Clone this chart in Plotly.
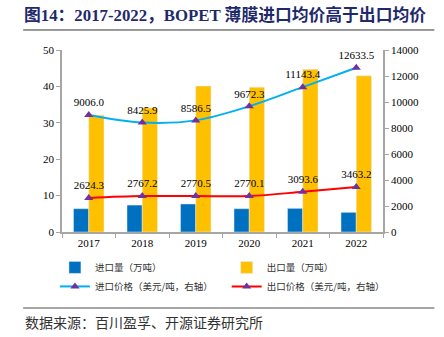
import plotly.graph_objects as go

years = ["2017", "2018", "2019", "2020", "2021", "2022"]
import_vol = [6.4, 7.4, 7.7, 6.4, 6.5, 5.4]
export_vol = [32.1, 34.1, 40.1, 39.8, 44.7, 42.9]
import_price = [9006.0, 8425.9, 8586.5, 9672.3, 11143.4, 12633.5]
export_price = [2624.3, 2767.2, 2770.5, 2770.1, 3093.6, 3463.2]

serif = "Liberation Serif, Times New Roman, serif"
cjk = "Noto Sans CJK SC"

fig = go.Figure()
fig.add_trace(go.Bar(x=years, y=import_vol, name="进口量（万吨）", marker_color="#0070C0", legend="legend"))
fig.add_trace(go.Bar(x=years, y=export_vol, name="出口量（万吨）", marker_color="#FFC000", legend="legend2"))
fig.add_trace(go.Scatter(x=years, y=import_price, name="进口价格（美元/吨，右轴）", yaxis="y2", legend="legend",
                         mode="lines+markers+text", line=dict(color="#00B0F0", width=2, shape="spline"),
                         marker=dict(symbol="triangle-up", color="#7030A0", size=8),
                         text=[f"{v:.1f}" for v in import_price], textposition="top center",
                         textfont=dict(family=serif, size=11, color="#000000")))
fig.add_trace(go.Scatter(x=years, y=export_price, name="出口价格（美元/吨，右轴）", yaxis="y2", legend="legend2",
                         mode="lines+markers+text", line=dict(color="#FF0000", width=2, shape="spline"),
                         marker=dict(symbol="triangle-up", color="#7030A0", size=8),
                         text=[f"{v:.1f}" for v in export_price], textposition="top center",
                         textfont=dict(family=serif, size=11, color="#000000")))

legend_common = dict(orientation="v", xanchor="left", yanchor="top", y=-0.115,
                     font=dict(family=cjk, size=9.5, color="#333333"),
                     tracegroupgap=0, itemwidth=30, traceorder="normal", bgcolor="rgba(0,0,0,0)")

fig.update_layout(
    width=444, height=337,
    margin=dict(l=62, r=61, t=50, b=105, autoexpand=False),
    plot_bgcolor="white", paper_bgcolor="white",
    barmode="group", bargap=0.43, bargroupgap=0,
    showlegend=True,
    legend=dict(x=-0.022, **legend_common),
    legend2=dict(x=0.513, **legend_common),
    xaxis=dict(type="category", showline=True, linecolor="#A6A6A6", linewidth=1.5,
               ticks="outside", tickson="boundaries", ticklen=4, tickcolor="#A6A6A6",
               tickfont=dict(family=serif, size=11, color="#000000"), showgrid=False),
    yaxis=dict(range=[0, 50], dtick=10, showline=True, linecolor="#A6A6A6", linewidth=1.5,
               ticks="outside", ticklen=4, tickcolor="#A6A6A6", showgrid=False, zeroline=False,
               tickfont=dict(family=serif, size=11, color="#000000")),
    yaxis2=dict(range=[0, 14000], dtick=2000, tickformat="d", overlaying="y", side="right", showline=True,
                linecolor="#A6A6A6", linewidth=1.5, ticks="outside", ticklen=4, tickcolor="#A6A6A6",
                showgrid=False, zeroline=False,
                tickfont=dict(family=serif, size=11, color="#000000")),
    font=dict(family=cjk),
)

fig.add_annotation(xref="paper", yref="paper", x=-0.125, y=1.0, yshift=35, xanchor="left", yanchor="middle",
                   text="<b>图14：2017-2022，BOPET 薄膜进口均价高于出口均价</b>", showarrow=False,
                   font=dict(family="Liberation Serif, Noto Sans CJK SC", size=16.8, color="#1F2A6B"))
fig.add_shape(type="line", xref="paper", yref="paper", x0=-0.121, x1=1.16, y0=1.11, y1=1.11,
              line=dict(color="#333333", width=1))
fig.add_shape(type="line", xref="paper", yref="paper", x0=-0.121, x1=1.16, y0=-0.418, y1=-0.418,
              line=dict(color="#A6A6A6", width=2))
fig.add_annotation(xref="paper", yref="paper", x=-0.12, y=-0.495, xanchor="left", yanchor="middle",
                   text="数据来源：百川盈孚、开源证券研究所", showarrow=False,
                   font=dict(family=cjk, size=14, color="#333333"))

fig.write_html("out.html")
